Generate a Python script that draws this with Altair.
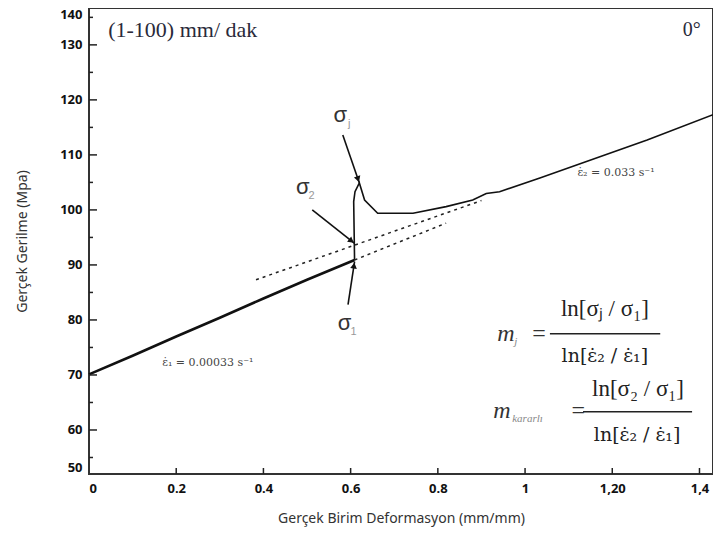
import math
import altair as alt
import pandas as pd

# ---------------- axes ----------------
x_domain = [0, 1.431]
y_domain = [52, 136.7]
x_tick_vals = [0, 0.2, 0.4, 0.6, 0.8, 1.0, 1.2, 1.4]
x_tick_text = ["0", "0.2", "0.4", "0.6", "0.8", "1", "1,20", "1,4"]
x_major = [0.2, 0.4, 0.6, 0.8, 1.0, 1.2, 1.4]
y_label_vals = [52, 60, 70, 80, 90, 100, 110, 120, 130, 136.7]
y_label_text = ["50", "60", "70", "80", "90", "100", "110", "120", "130", "140"]
y_major = [60, 70, 80, 90, 100, 110, 120, 130]
y_minor = [55, 65, 75, 85, 95, 105, 115, 125, 135]

# ---------------- curve ----------------
low_x = [0, 0.1, 0.2, 0.3, 0.4, 0.5, 0.609]
low_y = [70.1, 73.5, 77.0, 80.4, 83.9, 87.3, 90.9]
up_x = [0.609, 0.607, 0.610, 0.620, 0.632, 0.662, 0.743, 0.819, 0.880, 0.911, 0.9415, 1.034, 1.28, 1.431]
up_y = [90.9, 101.5, 103.3, 104.9, 101.8, 99.4, 99.4, 100.6, 101.8, 103.0, 103.3, 105.8, 112.7, 117.3]

# dashed extrapolations
dash_upper_x = [0.383, 0.90]
dash_upper_y = [87.3, 101.7]
dash_lower_x = [0.609, 0.819]
dash_lower_y = [90.9, 97.6]

# arrows (start -> end)
arrow_names = ["j", "2", "1"]
arrow_x0 = [0.582, 0.512, 0.594]
arrow_y0 = [113.6, 100.0, 82.8]
arrow_x1 = [0.620, 0.609, 0.609]
arrow_y1 = [104.9, 93.9, 90.6]

# sigma labels
sig_x = [0.576, 0.490, 0.586]
sig_y = [117.3, 104.2, 79.4]
sig_sub = ["j", "2", "1"]

# texts
top_left_text = "(1-100) mm/ dak"
top_left_pos = [0.044, 132.7]
top_right_text = "0°"
top_right_pos = [1.403, 132.7]
rate_texts = ["ε̇₁ = 0.00033 s⁻¹", "ε̇₂ = 0.033 s⁻¹"]
rate_x = [0.168, 1.12]
rate_y = [72.2, 106.7]

# formulas
num_texts = ["ln[σⱼ / σ₁]", "ln[σ₂ / σ₁]"]
num_x = [1.183, 1.259]
num_y = [81.9, 67.5]
den_texts = ["ln[ε̇₂ / ε̇₁]", "ln[ε̇₂ / ε̇₁]"]
den_x = [1.183, 1.257]
den_y = [73.5, 59.0]
bar_x0 = [1.057, 1.133]
bar_x1 = [1.310, 1.383]
bar_y = [77.5, 63.3]
m_x = [0.936, 0.927]
m_y = [77.5, 63.5]
m_sub = ["j", "kararlı"]
m_sub_dx = [17, 19]
eq_x = [1.032, 1.122]
eq_y = [77.5, 63.5]

W, H = 624, 466
kx = W / (x_domain[1] - x_domain[0])
ky = H / (y_domain[1] - y_domain[0])

X = alt.Scale(domain=x_domain, nice=False, zero=False)
Y = alt.Scale(domain=y_domain, nice=False, zero=False)

x_label_expr = "[" + ",".join("'%s'" % t for t in x_tick_text) + "][round(datum.value / 0.2)]"
y_label_expr = ("[" + ",".join("'%s'" % t for t in y_label_text) + "][indexof(["
                + ",".join(str(v) for v in y_label_vals) + "], datum.value)]")

curve = pd.DataFrame({
    "x": low_x + up_x,
    "y": low_y + up_y,
    "seg": ["low"] * len(low_x) + ["up"] * len(up_x),
    "i": list(range(len(low_x))) + list(range(len(up_x))),
})

base_axes = alt.Chart(curve).mark_line(color="#111", strokeWidth=2.6).encode(
    x=alt.X("x:Q", scale=X, axis=alt.Axis(
        values=x_tick_vals, labelExpr=x_label_expr, title="Gerçek Birim Deformasyon (mm/mm)",
        labelFontWeight="bold", labelFontSize=13, labelFont="Noto Sans", labelColor="#111",
        labelPadding=8, titleFont="Noto Sans", titleFontSize=14, titleFontWeight="normal",
        titleColor="#333", titlePadding=16)),
    y=alt.Y("y:Q", scale=Y, axis=alt.Axis(
        values=y_label_vals, labelExpr=y_label_expr, title="Gerçek Gerilme (Mpa)",
        labelFontWeight="bold", labelFontSize=13, labelFont="Noto Sans", labelColor="#111",
        labelPadding=7, labelFlush=True, titleFont="Noto Sans", titleFontSize=14,
        titleFontWeight="normal", titleColor="#333", titlePadding=30)),
    order="i:Q",
).transform_filter(alt.datum.seg == "low")

upper_curve = alt.Chart(curve).mark_line(color="#111", strokeWidth=1.6).encode(
    x=alt.X("x:Q", scale=X), y=alt.Y("y:Q", scale=Y), order="i:Q"
).transform_filter(alt.datum.seg == "up")

dashes = pd.DataFrame({
    "x": dash_upper_x + dash_lower_x,
    "y": dash_upper_y + dash_lower_y,
    "g": ["u", "u", "l", "l"],
})
dash_layer = alt.Chart(dashes).mark_line(color="#222", strokeWidth=1.5, strokeDash=[3, 4]).encode(
    x=alt.X("x:Q", scale=X), y=alt.Y("y:Q", scale=Y), detail="g:N")

# ticks (inward)
ytick_major = alt.Chart(pd.DataFrame({"y": y_major})).mark_rule(color="#222", strokeWidth=1.5).encode(
    y=alt.Y("y:Q", scale=Y), x=alt.value(0), x2=alt.value(8))
ytick_minor = alt.Chart(pd.DataFrame({"y": y_minor})).mark_rule(color="#222", strokeWidth=1.5).encode(
    y=alt.Y("y:Q", scale=Y), x=alt.value(0), x2=alt.value(4))
xtick = alt.Chart(pd.DataFrame({"x": x_major})).mark_rule(color="#222", strokeWidth=1.5).encode(
    x=alt.X("x:Q", scale=X), y=alt.value(H), y2=alt.value(H - 6))

# arrows
arr_rows = []
head_rows = []
for n, a, b, c, d in zip(arrow_names, arrow_x0, arrow_y0, arrow_x1, arrow_y1):
    arr_rows.append({"a": n, "x": a, "y": b, "k": 0})
    arr_rows.append({"a": n, "x": c, "y": d, "k": 1})
    dxp = (c - a) * kx
    dyp = -(d - b) * ky
    ang = math.degrees(math.atan2(dxp, -dyp)) % 360
    L = math.hypot(dxp, dyp)
    back = 4.0 / L
    head_rows.append({"x": c - (c - a) * back, "y": d - (d - b) * back, "ang": ang})
arrows = alt.Chart(pd.DataFrame(arr_rows)).mark_line(color="#111", strokeWidth=1.6).encode(
    x=alt.X("x:Q", scale=X), y=alt.Y("y:Q", scale=Y), detail="a:N", order="k:Q")
heads = alt.Chart(pd.DataFrame(head_rows)).mark_point(
    shape="triangle-up", filled=True, color="#111", size=45, opacity=1).encode(
    x=alt.X("x:Q", scale=X), y=alt.Y("y:Q", scale=Y), angle=alt.Angle("ang:Q", scale=None))

sig_df = pd.DataFrame({"x": sig_x, "y": sig_y, "s": sig_sub})
sig_main = alt.Chart(sig_df).mark_text(font="Liberation Sans", fontSize=22, color="#333").encode(
    x=alt.X("x:Q", scale=X), y=alt.Y("y:Q", scale=Y), text=alt.value("σ"))
sig_subs = alt.Chart(sig_df).mark_text(font="Liberation Sans", fontSize=11, color="#999", dx=9, dy=9).encode(
    x=alt.X("x:Q", scale=X), y=alt.Y("y:Q", scale=Y), text="s:N")

top_df = pd.DataFrame({"x": [top_left_pos[0]], "y": [top_left_pos[1]], "t": [top_left_text]})
top_left = alt.Chart(top_df).mark_text(font="Liberation Serif", fontSize=22, color="#2a2a3a", align="left").encode(
    x=alt.X("x:Q", scale=X), y=alt.Y("y:Q", scale=Y), text="t:N")
tr_df = pd.DataFrame({"x": [top_right_pos[0]], "y": [top_right_pos[1]], "t": [top_right_text]})
top_right = alt.Chart(tr_df).mark_text(font="Liberation Serif", fontSize=20, color="#2a2a3a", align="right").encode(
    x=alt.X("x:Q", scale=X), y=alt.Y("y:Q", scale=Y), text="t:N")

rate_df = pd.DataFrame({"x": rate_x, "y": rate_y, "t": rate_texts})
rates = alt.Chart(rate_df).mark_text(font="DejaVu Serif", fontSize=11, color="#444", align="left").encode(
    x=alt.X("x:Q", scale=X), y=alt.Y("y:Q", scale=Y), text="t:N")

num_df = pd.DataFrame({"x": num_x, "y": num_y, "t": num_texts})
nums = alt.Chart(num_df).mark_text(font="Liberation Serif", fontSize=23, color="#222").encode(
    x=alt.X("x:Q", scale=X), y=alt.Y("y:Q", scale=Y), text="t:N")
den_df = pd.DataFrame({"x": den_x, "y": den_y, "t": den_texts})
dens = alt.Chart(den_df).mark_text(font="DejaVu Serif", fontSize=19, color="#222").encode(
    x=alt.X("x:Q", scale=X), y=alt.Y("y:Q", scale=Y), text="t:N")
bar_df = pd.DataFrame({"x": bar_x0, "x2": bar_x1, "y": bar_y})
bars = alt.Chart(bar_df).mark_rule(color="#222", strokeWidth=1.5).encode(
    x=alt.X("x:Q", scale=X), x2="x2:Q", y=alt.Y("y:Q", scale=Y))
m_df = pd.DataFrame({"x": m_x, "y": m_y, "s": m_sub})
m_main = alt.Chart(m_df).mark_text(font="Liberation Serif", fontSize=24, fontStyle="italic",
                                   color="#333", align="left").encode(
    x=alt.X("x:Q", scale=X), y=alt.Y("y:Q", scale=Y), text=alt.value("m"))
m_sub1 = alt.Chart(m_df.iloc[[0]]).mark_text(font="Liberation Serif", fontSize=11, fontStyle="italic",
                                              color="#888", align="left", dx=m_sub_dx[0], dy=8).encode(
    x=alt.X("x:Q", scale=X), y=alt.Y("y:Q", scale=Y), text="s:N")
m_sub2 = alt.Chart(m_df.iloc[[1]]).mark_text(font="Liberation Serif", fontSize=11, fontStyle="italic",
                                              color="#888", align="left", dx=m_sub_dx[1], dy=8).encode(
    x=alt.X("x:Q", scale=X), y=alt.Y("y:Q", scale=Y), text="s:N")
eq_df = pd.DataFrame({"x": eq_x, "y": eq_y})
eqs = alt.Chart(eq_df).mark_text(font="Liberation Serif", fontSize=24, color="#333").encode(
    x=alt.X("x:Q", scale=X), y=alt.Y("y:Q", scale=Y), text=alt.value("="))

chart = alt.layer(
    base_axes, upper_curve, dash_layer, ytick_major, ytick_minor, xtick,
    arrows, heads, sig_main, sig_subs, top_left, top_right, rates,
    nums, dens, bars, m_main, m_sub1, m_sub2, eqs,
).properties(
    width=W, height=H,
    autosize=alt.AutoSizeParams(type="none"),
    padding={"left": 81, "top": 0, "right": 0, "bottom": 55},
).configure_view(stroke="#333", strokeWidth=2).configure_axis(
    grid=False, domain=False, ticks=False)

chart.save("out.html", embed_options={"renderer": "svg", "actions": False})
